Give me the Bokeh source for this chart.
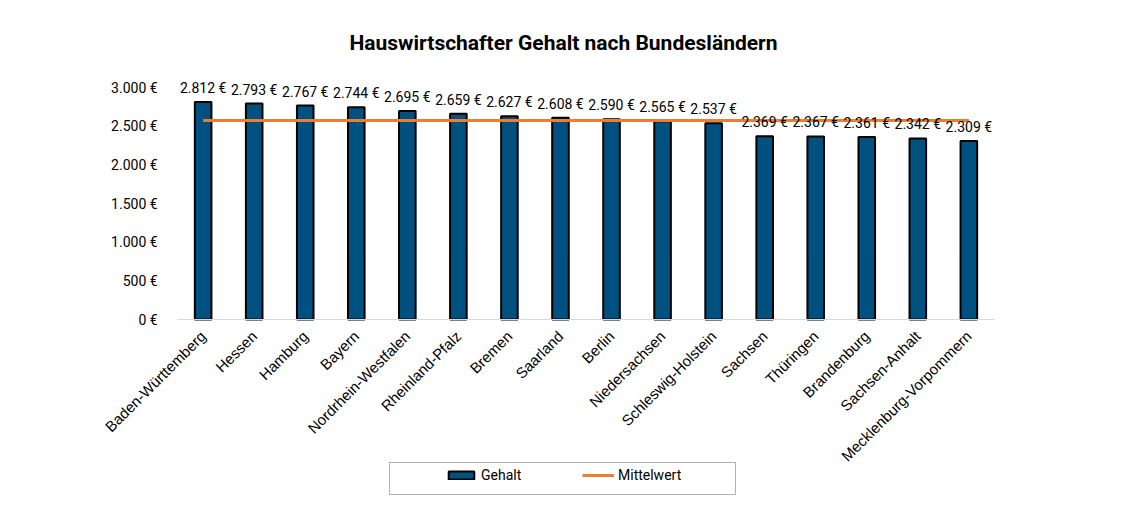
from bokeh.plotting import figure
from bokeh.models import (ColumnDataSource, FactorRange, Range1d, FixedTicker, CustomJSTickFormatter,
                          LabelSet, Label, Legend, LegendItem, BoxAnnotation)
from bokeh.core.properties import value
from bokeh.embed import file_html
from bokeh.resources import INLINE
import math

laender = ["Baden-Württemberg", "Hessen", "Hamburg", "Bayern", "Nordrhein-Westfalen",
           "Rheinland-Pfalz", "Bremen", "Saarland", "Berlin", "Niedersachsen",
           "Schleswig-Holstein", "Sachsen", "Thüringen", "Brandenburg", "Sachsen-Anhalt",
           "Mecklenburg-Vorpommern"]
gehalt = [2812, 2793, 2767, 2744, 2695, 2659, 2627, 2608, 2590, 2565, 2537,
          2369, 2367, 2361, 2342, 2309]
mittelwert = 2572
y_ticks = [0, 500, 1000, 1500, 2000, 2500, 3000]

def fmt(v):
    return f"{v:,}".replace(",", ".") + " €"

src = ColumnDataSource(dict(
    land=laender,
    gehalt=gehalt,
    label=[fmt(v) for v in gehalt],
    mittel=[mittelwert] * len(laender),
))

FONT = "Roboto"
W, H = 1109, 515
# frame geometry (pixels) - frame enlarged so rotated labels / legend are not clipped
F_LEFT, F_RIGHT, F_TOP, F_BOTTOM = 95, 1076, 10, 510
N = len(laender)
PAD = 1.6085                      # category padding on each side
px_per_cat = (F_RIGHT - F_LEFT) / (N + 2 * PAD)
cat0 = F_LEFT + PAD * px_per_cat  # pixel position of the category axis start
Y0_PX, Y3000_PX = 319, 87
k = (Y0_PX - Y3000_PX) / 3000.0
y_start = -(F_BOTTOM - Y0_PX) / k
y_end = (Y0_PX - F_TOP) / k

def sx(px):
    return (px - cat0) / px_per_cat

def sy(py):
    return (Y0_PX - py) / k

p = figure(width=W, height=H,
           x_range=FactorRange(*laender, range_padding=PAD, range_padding_units="absolute"),
           y_range=Range1d(y_start, y_end), output_backend="svg", toolbar_location=None,
           min_border_left=F_LEFT, min_border_right=W - F_RIGHT, min_border_top=F_TOP,
           min_border_bottom=H - F_BOTTOM)
p.outline_line_color = None
p.xgrid.grid_line_color = None
p.ygrid.grid_line_color = None

bars = p.vbar(x="land", top="gehalt", width=0.325, source=src,
              fill_color="#00517f", line_color="black", line_width=2)
line = p.line(x="land", y="mittel", source=src, line_color="#ed7d31", line_width=3)

labels = LabelSet(x="land", y="gehalt", text="label", source=src,
                  text_align="center", text_baseline="bottom", y_offset=6,
                  text_font=value(FONT), text_font_size=value("14px"),
                  text_color="#000000")
p.add_layout(labels)

p.yaxis.fixed_location = 0.0
p.yaxis.ticker = FixedTicker(ticks=y_ticks)
p.yaxis.formatter = CustomJSTickFormatter(
    code="return tick.toFixed(0).replace(/\\B(?=(\\d{3})+(?!\\d))/g, '.') + ' €';")
p.yaxis.axis_line_color = None
p.yaxis.major_tick_line_color = None
p.yaxis.minor_tick_line_color = None
p.yaxis.major_label_text_font = FONT
p.yaxis.major_label_text_font_size = "14px"
p.yaxis.major_label_text_color = "#000000"
p.yaxis.major_label_standoff = 14

p.xaxis.fixed_location = 0
p.xaxis.bounds = (0, N)
p.xaxis.axis_line_color = "#d9d9d9"
p.xaxis.axis_line_width = 1
p.xaxis.major_tick_line_color = None
p.xaxis.minor_tick_line_color = None
p.xaxis.major_label_orientation = math.pi / 4
p.xaxis.major_label_text_font = "Liberation Sans"
p.xaxis.major_label_text_font_size = "15px"
p.xaxis.major_label_text_color = "#000000"
p.xaxis.major_label_standoff = 8

title = Label(x=sx(563), y=sy(42),
              text="Hauswirtschafter Gehalt nach Bundesländern",
              text_font=FONT, text_font_size="21px", text_font_style="bold",
              text_align="center", text_baseline="middle", text_color="#000000")
p.add_layout(title)

box = BoxAnnotation(left=sx(389), right=sx(735), top=sy(462), bottom=sy(494),
                    fill_alpha=0, line_color="black", line_width=1)
p.add_layout(box)

legend = Legend(items=[LegendItem(label="Gehalt", renderers=[bars]),
                       LegendItem(label="Mittelwert", renderers=[line])],
                orientation="horizontal", location=(434 - F_LEFT, F_BOTTOM - 462 - 32),
                padding=11, spacing=41, label_width=60, label_standoff=4,
                glyph_width=32, glyph_height=10, label_height=10,
                label_text_font=FONT, label_text_font_size="14px",
                label_text_color="#000000", label_text_baseline="middle",
                border_line_alpha=0, background_fill_alpha=0)
p.add_layout(legend, "center")

open("out.html", "w").write(file_html(p, INLINE))
